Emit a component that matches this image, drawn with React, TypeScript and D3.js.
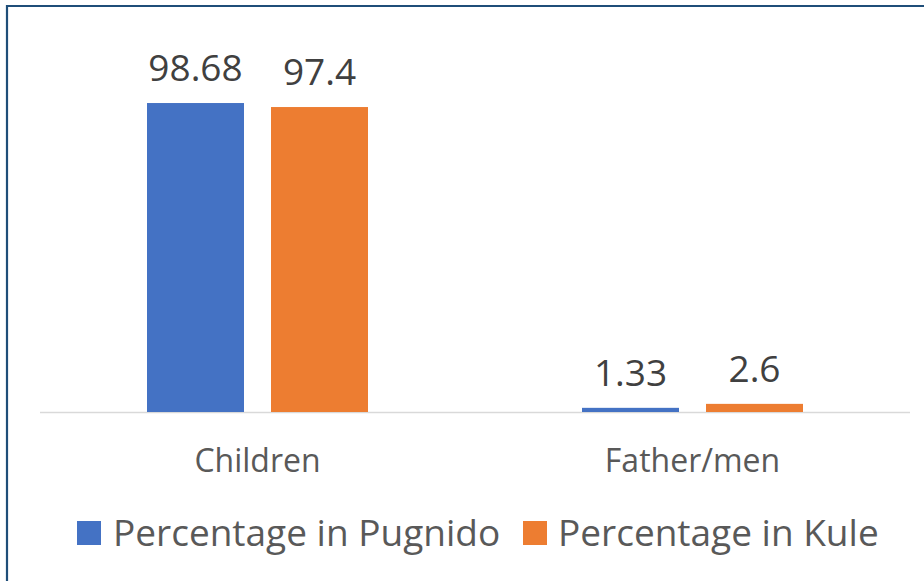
import React from "react";
import * as d3 from "d3";

const categories = ["Children", "Father/men"];
const seriesNames = ["Percentage in Pugnido", "Percentage in Kule"];
const pugnido = [98.68, 1.33];
const kule = [97.4, 2.6];
const valueLabels = [["98.68", "1.33"], ["97.4", "2.6"]];
const colors = ["#4472c4", "#ed7d31"];

const W = 924;
const H = 581;
const FONT = "'Open Sans', 'Noto Sans', sans-serif";

export default function App() {
  const baseY = 412;
  const y = d3.scaleLinear().domain([0, 100]).range([baseY, baseY - 313.1]);
  const x = d3.scaleBand<string>().domain(categories).range([40, 910]).padding(0);
  const inner = d3
    .scaleBand<string>()
    .domain(seriesNames)
    .range([-124, 124])
    .paddingInner(27 / 124)
    .paddingOuter(27 / 248);
  const values = [pugnido, kule];

  const legendPos = [
    { sq: 77, tx: 113 },
    { sq: 523, tx: 558 },
  ];

  return (
    <svg
      width={W}
      height={H}
      style={{ position: "absolute", left: 0, top: 0, background: "#fff" }}
    >
      <rect x={0} y={0} width={W} height={H} fill="#fff" />
      {/* border */}
      <path d={`M7,${H + 5} L7,6 L${W + 5},6`} fill="none" stroke="#1f4e79" strokeWidth={2.2} />
      {/* axis line */}
      <line x1={40} x2={910} y1={baseY + 0.5} y2={baseY + 0.5} stroke="#d9d9d9" strokeWidth={1.5} />
      {seriesNames.map((s, si) =>
        categories.map((c, ci) => {
          const cx = (x(c) as number) + x.bandwidth() / 2;
          const bx = cx + (inner(s) as number);
          const v = values[si][ci];
          const top = y(v);
          return (
            <g key={s + c}>
              <rect x={bx} y={top} width={inner.bandwidth()} height={baseY - top} fill={colors[si]} />
              <text
                x={bx + inner.bandwidth() / 2}
                y={top - 22}
                textAnchor="middle"
                fontFamily={FONT}
                fontSize={37}
                fill="#404040"
              >
                {valueLabels[si][ci]}
              </text>
            </g>
          );
        })
      )}
      {categories.map((c) => (
        <text
          key={c}
          x={(x(c) as number) + x.bandwidth() / 2}
          y={472}
          textAnchor="middle"
          fontFamily={FONT}
          fontSize={32}
          fill="#595959"
        >
          {c}
        </text>
      ))}
      {seriesNames.map((s, si) => (
        <g key={s}>
          <rect x={legendPos[si].sq} y={521} width={24} height={24} fill={colors[si]} />
          <text x={legendPos[si].tx} y={546} fontFamily={FONT} fontSize={37} fill="#595959">
            {s}
          </text>
        </g>
      ))}
    </svg>
  );
}
